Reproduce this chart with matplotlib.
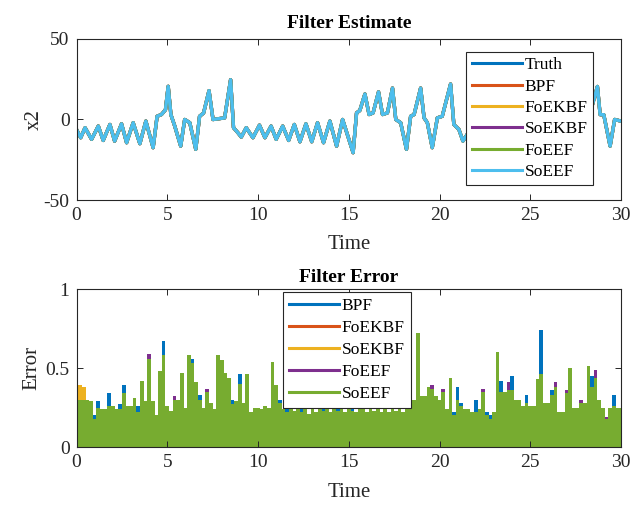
import numpy as np
import matplotlib
matplotlib.use('Agg')
import matplotlib.pyplot as plt

plt.rcParams['font.family'] = ['Liberation Serif', 'DejaVu Serif']
plt.rcParams['axes.unicode_minus'] = False

# top panel: x2 trajectory (all filters lie on top of the truth)
time_pts = [0, 0.23, 0.47, 0.83, 1.2, 1.47, 1.84, 2.1, 2.48, 2.76, 3.12, 3.49, 3.82, 4.22, 4.44, 4.68, 4.9,
            5.05, 5.2, 5.41, 5.74, 5.96, 6.24, 6.57, 6.78, 7.0, 7.3, 7.52, 8.16, 8.49, 8.65, 8.89, 9.08,
            9.35, 9.72, 10.08, 10.38, 10.72, 11.0, 11.36, 11.69, 12.0, 12.31, 12.64, 12.96, 13.28, 13.61,
            13.96, 14.33, 14.66, 15.24, 15.43, 15.61, 15.89, 16.12, 16.34, 16.64, 16.86, 17.13, 17.41,
            17.59, 17.86, 18.18, 18.41, 18.6, 18.96, 19.15, 19.33, 19.6, 19.88, 20.15, 20.61, 20.79, 21.07,
            21.29, 21.6, 21.9, 22.2, 22.5, 22.9, 23.2, 23.5, 23.7, 24.0, 24.4, 24.6, 25.0, 25.2, 25.6, 25.9,
            26.3, 26.6, 27.0, 27.4, 27.7, 28.0, 28.3, 28.7, 28.85, 29.05, 29.4, 29.65, 30.0]
x2_truth = [-6.2, -11.3, -5.1, -12.3, -4.1, -13.0, -3.1, -13.4, -2.7, -14.4, -2.0, -15.0, -1.0, -17.5, 2.0, 3.1, 6.0,
            20.6, 3.0, -4.0, -16.5, 0.0, -2.0, -18.5, 2.0, 4.0, 17.9, 0.0, 1.0, 24.7, -5.1, -8.2, -10.9,
            -5.1, -11.3, -3.5, -11.3, -4.1, -12.3, -4.1, -13.0, -3.1, -13.8, -2.7, -13.8, -2.0, -14.4,
            -1.0, -16.5, 0.0, -20.6, 4.1, 5.6, 15.8, 3.1, 4.1, 17.1, 3.1, 4.1, 19.5,
            0.0, -2.0, -18.5, 2.0, 3.1, 19.5, 1.0, -2.0, -17.5, 1.0, 2.0, 22.0, -3.1, -6.2,
            -13.4, -8.0, -3.0, -14.0, -2.0, -16.0, 2.0, 16.0, 2.0, -4.0, -18.0, 3.0, 18.0, 0.0, -6.0, -12.0,
            -4.0, -14.0, -3.0, -16.0, 1.0, 3.0, 4.0, 20.5, 3.0, 3.0, -16.5, 0.0, -1.0]
top_labels = ['Truth', 'BPF', 'FoEKBF', 'SoEKBF', 'FoEEF', 'SoEEF']

# bottom panel: filter errors sampled every 0.2 s
err_time = np.linspace(0, 30, 151)
err_bpf = [0.57, 0.27, 0.27, 0.28, 0.26, 0.20, 0.29, 0.21, 0.22, 0.34, 0.23, 0.22, 0.27, 0.39, 0.23,
           0.24, 0.28, 0.26, 0.38, 0.29, 0.53, 0.29, 0.18, 0.44, 0.67, 0.24, 0.21, 0.27, 0.28, 0.44,
           0.23, 0.58, 0.56, 0.38, 0.33, 0.22, 0.32, 0.25, 0.20, 0.55, 0.52, 0.44, 0.41, 0.30, 0.26,
           0.46, 0.25, 0.43, 0.20, 0.23, 0.22, 0.22, 0.23, 0.22, 0.50, 0.36, 0.30, 0.21, 0.27, 0.22,
           0.21, 0.22, 0.27, 0.21, 0.19, 0.27, 0.20, 0.22, 0.26, 0.22, 0.20, 0.22, 0.27, 0.21, 0.20,
           0.22, 0.27, 0.20, 0.22, 0.27, 0.20, 0.22, 0.21, 0.27, 0.20, 0.22, 0.20, 0.27, 0.21, 0.22,
           0.20, 0.27, 0.27, 0.27, 0.69, 0.29, 0.29, 0.35, 0.34, 0.29, 0.27, 0.32, 0.21, 0.41, 0.22,
           0.38, 0.28, 0.21, 0.22, 0.20, 0.30, 0.22, 0.32, 0.22, 0.20, 0.20, 0.57, 0.42, 0.32, 0.33,
           0.45, 0.27, 0.27, 0.24, 0.33, 0.24, 0.24, 0.40, 0.74, 0.25, 0.25, 0.36, 0.35, 0.20, 0.20,
           0.31, 0.47, 0.22, 0.22, 0.25, 0.25, 0.48, 0.45, 0.41, 0.27, 0.22, 0.16, 0.22, 0.33, 0.22, 0.22]
err_foekbf = [0.45, 0.22, 0.23, 0.24, 0.22, 0.12, 0.19, 0.18, 0.17, 0.20, 0.19, 0.17, 0.18, 0.27, 0.20,
              0.19, 0.25, 0.16, 0.35, 0.22, 0.50, 0.22, 0.14, 0.41, 0.51, 0.20, 0.17, 0.24, 0.23, 0.40,
              0.19, 0.51, 0.46, 0.34, 0.24, 0.19, 0.29, 0.21, 0.18, 0.51, 0.48, 0.40, 0.37, 0.21, 0.22,
              0.33, 0.21, 0.39, 0.16, 0.19, 0.19, 0.18, 0.20, 0.19, 0.47, 0.32, 0.22, 0.18, 0.16, 0.19,
              0.17, 0.19, 0.16, 0.18, 0.15, 0.18, 0.16, 0.19, 0.17, 0.18, 0.16, 0.19, 0.17, 0.18, 0.16,
              0.19, 0.17, 0.16, 0.18, 0.19, 0.16, 0.18, 0.17, 0.19, 0.16, 0.18, 0.16, 0.19, 0.17, 0.18,
              0.16, 0.19, 0.24, 0.24, 0.65, 0.26, 0.26, 0.31, 0.31, 0.26, 0.24, 0.29, 0.18, 0.37, 0.14,
              0.24, 0.20, 0.18, 0.18, 0.16, 0.16, 0.18, 0.29, 0.14, 0.12, 0.16, 0.53, 0.29, 0.29, 0.30,
              0.30, 0.24, 0.24, 0.20, 0.22, 0.20, 0.20, 0.36, 0.39, 0.22, 0.22, 0.27, 0.32, 0.16, 0.16,
              0.28, 0.43, 0.19, 0.19, 0.22, 0.22, 0.44, 0.32, 0.38, 0.24, 0.19, 0.12, 0.19, 0.20, 0.19, 0.19]
err_soekbf = [0.47, 0.39, 0.38, 0.25, 0.23, 0.13, 0.20, 0.19, 0.18, 0.21, 0.20, 0.18, 0.19, 0.28, 0.21,
              0.20, 0.26, 0.17, 0.36, 0.23, 0.51, 0.23, 0.15, 0.42, 0.52, 0.21, 0.18, 0.25, 0.24, 0.41,
              0.20, 0.52, 0.47, 0.35, 0.25, 0.20, 0.30, 0.22, 0.19, 0.52, 0.49, 0.41, 0.38, 0.22, 0.23,
              0.34, 0.22, 0.40, 0.17, 0.20, 0.20, 0.19, 0.21, 0.20, 0.48, 0.33, 0.23, 0.19, 0.17, 0.20,
              0.18, 0.20, 0.17, 0.19, 0.16, 0.19, 0.17, 0.20, 0.18, 0.19, 0.17, 0.20, 0.18, 0.19, 0.17,
              0.20, 0.18, 0.17, 0.19, 0.20, 0.17, 0.19, 0.18, 0.20, 0.17, 0.19, 0.17, 0.20, 0.18, 0.19,
              0.17, 0.20, 0.25, 0.25, 0.66, 0.27, 0.27, 0.32, 0.32, 0.27, 0.25, 0.30, 0.19, 0.38, 0.15,
              0.25, 0.21, 0.19, 0.19, 0.17, 0.17, 0.19, 0.30, 0.15, 0.13, 0.17, 0.54, 0.30, 0.30, 0.31,
              0.31, 0.25, 0.25, 0.21, 0.23, 0.21, 0.21, 0.37, 0.40, 0.23, 0.23, 0.28, 0.33, 0.17, 0.17,
              0.29, 0.44, 0.20, 0.20, 0.23, 0.23, 0.45, 0.33, 0.39, 0.25, 0.20, 0.13, 0.20, 0.21, 0.20, 0.20]
err_foeef = [0.48, 0.26, 0.26, 0.26, 0.25, 0.14, 0.21, 0.20, 0.20, 0.22, 0.22, 0.20, 0.20, 0.30, 0.22,
             0.22, 0.27, 0.18, 0.38, 0.25, 0.59, 0.25, 0.16, 0.44, 0.54, 0.22, 0.19, 0.32, 0.26, 0.43,
             0.21, 0.54, 0.49, 0.37, 0.26, 0.21, 0.37, 0.24, 0.20, 0.54, 0.51, 0.43, 0.40, 0.23, 0.25,
             0.36, 0.24, 0.42, 0.18, 0.21, 0.21, 0.20, 0.22, 0.21, 0.50, 0.35, 0.24, 0.20, 0.18, 0.21,
             0.19, 0.21, 0.18, 0.20, 0.17, 0.20, 0.18, 0.21, 0.19, 0.20, 0.18, 0.21, 0.19, 0.20, 0.18,
             0.21, 0.19, 0.18, 0.20, 0.21, 0.18, 0.20, 0.19, 0.21, 0.18, 0.20, 0.18, 0.21, 0.19, 0.20,
             0.18, 0.21, 0.26, 0.26, 0.68, 0.28, 0.28, 0.34, 0.39, 0.28, 0.26, 0.37, 0.20, 0.40, 0.16,
             0.26, 0.22, 0.20, 0.20, 0.18, 0.18, 0.20, 0.37, 0.16, 0.14, 0.18, 0.56, 0.31, 0.31, 0.41,
             0.32, 0.26, 0.26, 0.22, 0.24, 0.22, 0.22, 0.39, 0.42, 0.24, 0.24, 0.29, 0.41, 0.18, 0.18,
             0.36, 0.46, 0.21, 0.21, 0.30, 0.24, 0.47, 0.34, 0.49, 0.26, 0.21, 0.19, 0.21, 0.22, 0.21, 0.21]
err_soeef = [0.52, 0.30, 0.30, 0.30, 0.29, 0.18, 0.25, 0.24, 0.24, 0.26, 0.26, 0.24, 0.24, 0.34, 0.26,
             0.26, 0.31, 0.22, 0.42, 0.29, 0.56, 0.29, 0.20, 0.48, 0.58, 0.26, 0.23, 0.30, 0.30, 0.47,
             0.25, 0.58, 0.53, 0.41, 0.30, 0.25, 0.35, 0.28, 0.24, 0.58, 0.55, 0.47, 0.44, 0.27, 0.29,
             0.40, 0.28, 0.46, 0.22, 0.25, 0.25, 0.24, 0.26, 0.25, 0.54, 0.39, 0.28, 0.24, 0.22, 0.25,
             0.23, 0.25, 0.22, 0.24, 0.21, 0.24, 0.22, 0.25, 0.23, 0.24, 0.22, 0.25, 0.23, 0.24, 0.22,
             0.25, 0.23, 0.22, 0.24, 0.25, 0.22, 0.24, 0.23, 0.25, 0.22, 0.24, 0.22, 0.25, 0.23, 0.24,
             0.22, 0.25, 0.30, 0.30, 0.72, 0.32, 0.32, 0.38, 0.37, 0.32, 0.30, 0.35, 0.24, 0.44, 0.20,
             0.30, 0.26, 0.24, 0.24, 0.22, 0.22, 0.24, 0.35, 0.20, 0.18, 0.22, 0.60, 0.35, 0.35, 0.36,
             0.36, 0.30, 0.30, 0.26, 0.28, 0.26, 0.26, 0.43, 0.46, 0.28, 0.28, 0.33, 0.38, 0.22, 0.22,
             0.34, 0.50, 0.25, 0.25, 0.28, 0.28, 0.51, 0.38, 0.44, 0.30, 0.25, 0.18, 0.25, 0.26, 0.25, 0.25]
err_labels = ['BPF', 'FoEKBF', 'SoEKBF', 'FoEEF', 'SoEEF']

colors = ['#0072BD', '#D95319', '#EDB120', '#7E2F8E', '#77AC30', '#4DBEEE']
axis_col = '#262626'
fs_tick = 14
fs_lab = 15
fs_leg = 12.5


def style(ax):
    ax.tick_params(direction='in', top=True, right=True, length=4, width=0.7,
                   colors=axis_col, labelsize=fs_tick, pad=5)
    for sp in ax.spines.values():
        sp.set_color(axis_col)
        sp.set_linewidth(0.8)


def main():
    fig = plt.figure(figsize=(6.34, 5.07), dpi=100)

    # Filter estimate
    ax1 = fig.add_axes([0.1207, 0.6055, 0.8588, 0.3176])
    for lab, c in zip(top_labels, colors):
        ax1.plot(time_pts, x2_truth, color=c, lw=2.4, label=lab)
    ax1.set_xlim(0, 30)
    ax1.set_ylim(-50, 50)
    ax1.set_xticks(range(0, 31, 5))
    ax1.set_yticks([-50, 0, 50])
    ax1.set_xlabel('Time', fontsize=fs_lab, color=axis_col, labelpad=8)
    ax1.set_ylabel('x2', fontsize=fs_lab, color=axis_col, labelpad=0)
    ax1.set_title('Filter Estimate', fontsize=fs_tick, fontweight='bold', pad=8)
    style(ax1)
    leg = ax1.legend(loc='upper left', bbox_to_anchor=(0.716, 0.92), fontsize=fs_leg,
                     handlelength=2.9, handletextpad=0.15, labelspacing=0.3,
                     borderpad=0.3, borderaxespad=0, fancybox=False, framealpha=1)
    for line in leg.get_lines():
        line.set_linewidth(2.2)
    leg.get_frame().set_edgecolor(axis_col)
    leg.get_frame().set_linewidth(0.8)

    # Filter error
    ax2 = fig.add_axes([0.1207, 0.1183, 0.8588, 0.3116])
    err_series = [err_bpf, err_foekbf, err_soekbf, err_foeef, err_soeef]
    for lab, err, c in zip(err_labels, err_series, colors[:5]):
        ax2.fill_between(err_time, 0, err, step='mid', color=c, lw=0, antialiased=False)
        ax2.plot([], [], color=c, lw=2.2, label=lab)
    ax2.set_xlim(0, 30)
    ax2.set_ylim(0, 1)
    ax2.set_xticks(range(0, 31, 5))
    ax2.set_yticks([0, 0.5, 1])
    ax2.set_yticklabels(['0', '0.5', '1'])
    ax2.set_xlabel('Time', fontsize=fs_lab, color=axis_col, labelpad=9)
    ax2.set_ylabel('Error', fontsize=fs_lab, color=axis_col, labelpad=3)
    ax2.set_title('Filter Error', fontsize=fs_tick, fontweight='bold', pad=5)
    style(ax2)
    leg2 = ax2.legend(loc='upper left', bbox_to_anchor=(0.379, 0.98), fontsize=fs_leg,
                      handlelength=2.9, handletextpad=0.15, labelspacing=0.33,
                      borderpad=0.35, borderaxespad=0, fancybox=False, framealpha=1)
    leg2.get_frame().set_edgecolor(axis_col)
    leg2.get_frame().set_linewidth(0.8)

    fig.savefig('out.png', dpi=100)
    plt.close('all')


if __name__ == '__main__':
    main()
